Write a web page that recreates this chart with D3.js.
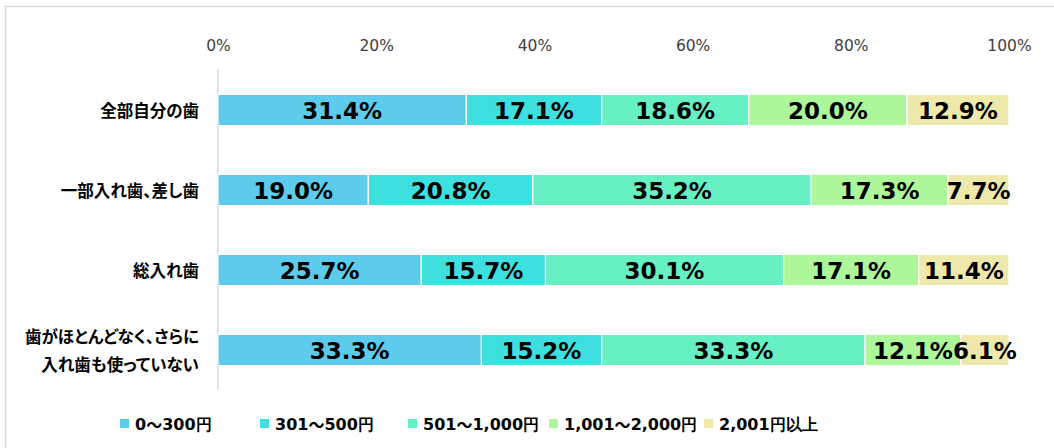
<!DOCTYPE html>
<html><head><meta charset="utf-8">
<script src="https://cdn.jsdelivr.net/npm/d3@7"></script>
<style>html,body{margin:0;padding:0;background:#fff;}svg{display:block;}
.cat{font-feature-settings:"palt" 1;}</style>
</head><body>
<svg id="chart" width="1054" height="448"></svg>
<script>
const categories = ["全部自分の歯", "一部入れ歯、差し歯", "総入れ歯", "歯がほとんどなく、さらに|入れ歯も使っていない"];
const seriesNames = ["0～300円", "301～500円", "501～1,000円", "1,001～2,000円", "2,001円以上"];
const s1 = [31.4, 19.0, 25.7, 33.3];
const s2 = [17.1, 20.8, 15.7, 15.2];
const s3 = [18.6, 35.2, 30.1, 33.3];
const s4 = [20.0, 17.3, 17.1, 12.1];
const s5 = [12.9, 7.7, 11.4, 6.1];
const tickValues = [0, 20, 40, 60, 80, 100];
const colors = ["#5DCBEB", "#3EDFDF", "#66F0C3", "#ADF79A", "#EEE8AA"];

const series = [s1, s2, s3, s4, s5];
const rows = categories.map((c, i) => {
  const r = {cat: c};
  seriesNames.forEach((n, j) => r[n] = series[j][i]);
  return r;
});
const stacked = d3.stack().keys(seriesNames)(rows);

const svg = d3.select("#chart");
// frame
svg.append("path").attr("d", "M5.5,448 V6.5 H1054").attr("fill", "none").attr("stroke", "#d9d9d9").attr("stroke-width", 1.5);

const x = d3.scaleLinear().domain([0, 100]).range([218, 1009]);
const y = d3.scaleBand().domain(categories).range([70, 390]).paddingInner(0.61).paddingOuter(0.305);

// axis line
svg.append("line").attr("x1", x(0)).attr("x2", x(0)).attr("y1", 69).attr("y2", 389)
  .attr("stroke", "#d9d9d9").attr("stroke-width", 1.5);

// top ticks
const xAxis = d3.axisTop(x).tickValues(tickValues).tickFormat(d => d + "%").tickSize(0).tickPadding(0);
const ax = svg.append("g").attr("transform", "translate(0,51)").call(xAxis);
ax.select(".domain").remove();
ax.selectAll("text").attr("font-family", "'DejaVu Sans', Verdana, sans-serif").attr("font-size", 15.5).attr("fill", "#404040");

// bars
const g = svg.append("g");
stacked.forEach((layer, j) => {
  g.selectAll(null).data(layer).enter().append("rect")
    .attr("x", d => x(d[0]))
    .attr("y", d => y(d.data.cat))
    .attr("width", d => x(d[1]) - x(d[0]))
    .attr("height", y.bandwidth())
    .attr("fill", colors[j])
    .attr("stroke", "#fff").attr("stroke-width", 1.2);
});
// labels
stacked.forEach((layer, j) => {
  g.selectAll(null).data(layer).enter().append("text")
    .attr("x", d => (x(d[0]) + x(d[1])) / 2)
    .attr("y", d => y(d.data.cat) + y.bandwidth() / 2 + 1)
    .attr("text-anchor", "middle").attr("dominant-baseline", "central")
    .attr("font-family", "'DejaVu Sans', Verdana, sans-serif").attr("font-weight", "bold")
    .attr("font-size", 23).attr("fill", "#000")
    .text(d => (d[1] - d[0]).toFixed(1) + "%");
});

// category labels
categories.forEach(c => {
  const lines = c.split("|");
  const cy = y(c) + y.bandwidth() / 2;
  const t = svg.append("text").attr("class", "cat").attr("text-anchor", "end")
    .attr("font-family", "'Noto Sans CJK JP', sans-serif").attr("font-weight", "bold")
    .attr("font-size", 16.5).attr("fill", "#000");
  lines.forEach((ln, k) => {
    t.append("tspan").attr("x", 199)
      .attr("y", cy + (k - (lines.length - 1) / 2) * 28)
      .attr("dominant-baseline", "central").text(ln);
  });
});

// legend
const legX = [120, 260, 408, 549, 704];
seriesNames.forEach((n, j) => {
  svg.append("rect").attr("x", legX[j]).attr("y", 419).attr("width", 9).attr("height", 9).attr("fill", colors[j]);
  const t = svg.append("text").attr("x", legX[j] + 15).attr("y", 424).attr("dominant-baseline", "central")
    .attr("font-family", "'DejaVu Sans', Verdana, sans-serif").attr("font-weight", "bold")
    .attr("font-size", 16).attr("fill", "#000");
  n.split(/(～)/).forEach(part => {
    if (!part) return;
    const ts = t.append("tspan").text(part);
    if (part === "～") ts.attr("font-family", "'Noto Sans CJK JP', sans-serif");
  });
});
</script>
</body></html>
